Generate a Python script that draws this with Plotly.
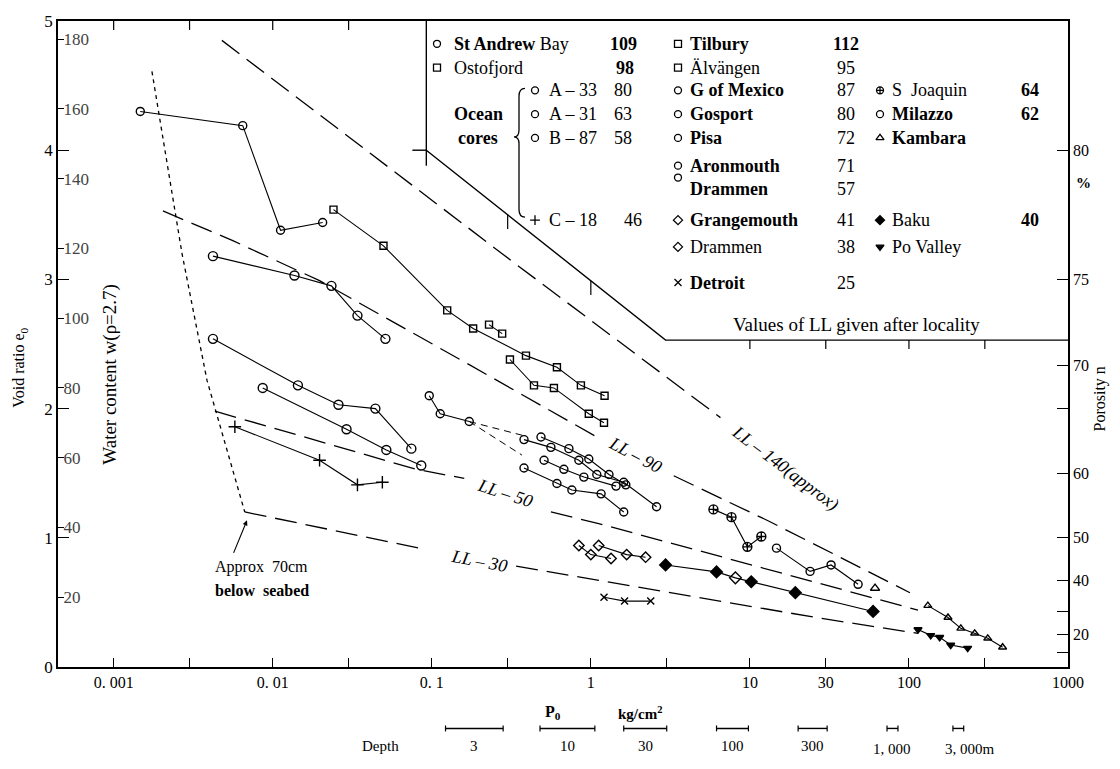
import numpy as np
import plotly.graph_objects as go

# ---------------- data: P0 (kg/cm2) and void ratio e0 ----------------
st_andrew_p = [0.00147, 0.00648, 0.0112, 0.0206]
st_andrew_e = [4.30, 4.19, 3.38, 3.44]
ostofjord_p = [0.0241, 0.0497, 0.125, 0.182, 0.391, 0.612, 0.866, 1.22]
ostofjord_e = [3.54, 3.26, 2.76, 2.62, 2.41, 2.32, 2.18, 2.10]
tilbury_p = [0.229, 0.277]
tilbury_e = [2.65, 2.58]
alvangen_p = [0.310, 0.439, 0.586, 0.971, 1.21]
alvangen_e = [2.38, 2.18, 2.16, 1.96, 1.89]
a33_p = [0.00421, 0.0137, 0.0234, 0.0341, 0.0511]
a33_e = [3.18, 3.03, 2.95, 2.72, 2.54]
a31_p = [0.00421, 0.0144, 0.0259, 0.0442, 0.0744]
a31_e = [2.54, 2.18, 2.03, 2.00, 1.69]
b87_p = [0.00865, 0.0291, 0.0518, 0.0859]
b87_e = [2.16, 1.84, 1.68, 1.56]
c18_p = [0.00578, 0.0197, 0.0341, 0.0489]
c18_e = [1.86, 1.60, 1.41, 1.43]
drammen57_p = [0.0964, 0.113, 0.172]
drammen57_e = [2.10, 1.96, 1.90]
drammen57_ext1_p = [0.172, 0.380]
drammen57_ext1_e = [1.90, 1.79]
drammen57_ext2_p = [0.172, 0.369]
drammen57_ext2_e = [1.90, 1.64]
gmexico_p = [0.380, 0.561, 0.841, 1.09, 1.61, 2.59]
gmexico_e = [1.76, 1.70, 1.60, 1.49, 1.43, 1.24]
gosport_p = [0.486, 0.728, 0.971, 1.30, 1.66]
gosport_e = [1.78, 1.69, 1.61, 1.49, 1.41]
pisa_p = [0.508, 0.677, 0.904, 1.44]
pisa_e = [1.60, 1.53, 1.47, 1.40]
aronmouth_p = [0.380, 0.612, 0.760, 1.16, 1.61]
aronmouth_e = [1.54, 1.42, 1.37, 1.34, 1.20]
grangemouth_p = [1.12, 1.68, 2.21]
grangemouth_e = [0.94, 0.87, 0.85]
drammen38_p = [0.841, 1.00, 1.34]
drammen38_e = [0.94, 0.87, 0.84]
detroit_p = [1.21, 1.63, 2.38]
detroit_e = [0.54, 0.51, 0.51]
sjoaquin_p = [5.90, 7.66, 9.64, 11.8]
sjoaquin_e = [1.22, 1.16, 0.93, 1.01]
milazzo_p = [14.7, 23.9, 32.4, 47.9]
milazzo_e = [0.92, 0.74, 0.79, 0.64]
kambara_single_p = [61.2]
kambara_single_e = [0.61]
kambara_p = [131.5, 176, 212, 259, 313, 388]
kambara_e = [0.475, 0.383, 0.299, 0.261, 0.222, 0.153]
baku_p = [2.95, 6.17, 8.11, 10.2, 19.3, 59.5]
baku_e = [0.79, 0.736, 0.69, 0.66, 0.575, 0.43]
po_valley_p = [114, 137, 156, 183, 234]
po_valley_e = [0.29, 0.245, 0.23, 0.17, 0.146]

# liquid-limit reference lines (broken where the labels sit)
ll140_p = [0.00479, 0.320, 6.53]
ll140_e = [4.85, 3.14, 1.93]
ll90a_p = [0.00204, 0.00561, 0.0197, 0.0835, 0.172, 1.09]
ll90a_e = [3.53, 3.30, 2.99, 2.56, 2.34, 1.78]
ll90b_p = [3.32, 13.1, 101.5]
ll90b_e = [1.48, 1.13, 0.575]
ll50a_p = [0.00433, 0.080, 0.160]
ll50a_e = [1.98, 1.53, 1.46]
ll50b_p = [0.561, 1.12, 26.9, 114]
ll50b_e = [1.20, 1.11, 0.65, 0.44]
ll30a_p = [0.00667, 0.0835]
ll30a_e = [1.20, 0.92]
ll30b_p = [0.339, 1.12, 26.9, 114]
ll30b_e = [0.78, 0.67, 0.38, 0.26]
boundary_p = [0.00174, 0.00269, 0.00386, 0.00667]
boundary_e = [4.61, 3.20, 2.22, 1.20]

# legend-box outline in data units
box_diag_p = [0.0924, 2.95, 1000]
box_diag_e = [4.0, 2.53, 2.53]
box_left_p = [0.0924, 0.0924]
box_left_e = [5.0, 3.88]
box_corner_p = [0.0755, 0.0924]
box_corner_e = [4.0, 4.0]

# LL label anchor points
ll_label_text = ["LL – 140(approx)", "LL – 90", "LL – 50", "LL – 30"]
ll_label_p = [16.7, 1.915, 0.289, 0.199]
ll_label_e = [1.534, 1.641, 1.350, 0.820]

# axes ticks
x_ticks = [0.001, 0.003, 0.01, 0.03, 0.1, 0.3, 1, 3, 10, 30, 100, 300, 1000]
x_tick_text = ["0. 001", "", "0. 01", "", "0. 1", "", "1", "", "10", "30", "100", "", "1000"]
void_ticks = [0, 1, 2, 3, 4, 5]
water_ticks = [20, 40, 60, 80, 100, 120, 140, 160, 180]
porosity_ticks = [80, 75, 70, 66.67, 60, 50, 40, 30, 20, 10]
porosity_text = ["80", "75", "70", "", "60", "50", "40", "", "20", ""]

# depth scale under the axis (pressure range for each depth)
depth_labels = ["3", "10", "30", "100", "300", "1, 000", "3, 000"]
depth_lo = [0.122, 0.479, 1.61, 6.17, 20.1, 72.8, 189]
depth_hi = [0.281, 1.06, 3.0, 9.79, 30.6, 85.3, 221]

# ---------------- layout helpers ----------------
FONT = "Liberation Serif"
XMIN, XMAX = -3.35, 3.0
L, R, T, B = 58, 1068, 15, 667


def px(x):
    return (x - L) / (R - L)


def py(y):
    return (B - y) / (B - T)


def xp(p):
    return (np.log10(p) - XMIN) / (XMAX - XMIN)


fig = go.Figure()


def series(p, e, symbol=None, size=7, dash="solid", width=1.1, lw=1.4):
    mode = "lines+markers" if symbol is not None else "lines"
    fig.add_trace(go.Scatter(
        x=p, y=e, mode=mode,
        line=dict(color="black", width=width, dash=dash),
        marker=dict(symbol=symbol if symbol is not None else "circle", size=size,
                    color="black", line=dict(color="black", width=lw)),
        showlegend=False, hoverinfo="skip", cliponaxis=False))


LONG = "22px,9px"
series(ll140_p, ll140_e, dash=LONG, width=1.3)
series(ll90a_p, ll90a_e, dash=LONG, width=1.3)
series(ll90b_p, ll90b_e, dash=LONG, width=1.3)
series(ll50a_p, ll50a_e, dash=LONG, width=1.3)
series(ll50b_p, ll50b_e, dash=LONG, width=1.3)
series(ll30a_p, ll30a_e, dash=LONG, width=1.3)
series(ll30b_p, ll30b_e, dash=LONG, width=1.3)
series(boundary_p, boundary_e, dash="4px,4px", width=1.3)
series(box_diag_p, box_diag_e, width=1.4)
series(box_left_p, box_left_e, width=1.4)
series(box_corner_p, box_corner_e, width=1.4)

series(st_andrew_p, st_andrew_e, "circle-open", 8)
series(ostofjord_p, ostofjord_e, "square-open", 7)
series(tilbury_p, tilbury_e, "square-open", 7)
series(alvangen_p, alvangen_e, "square-open", 7)
series(a33_p, a33_e, "circle-open", 9)
series(a31_p, a31_e, "circle-open", 9)
series(b87_p, b87_e, "circle-open", 9)
series(c18_p, c18_e, "cross-thin-open", 9)
series(drammen57_p, drammen57_e, "circle-open", 8)
series(drammen57_ext1_p, drammen57_ext1_e, dash="7px,5px", width=1.0)
series(drammen57_ext2_p, drammen57_ext2_e, dash="7px,5px", width=1.0)
series(gmexico_p, gmexico_e, "circle-open", 8)
series(gosport_p, gosport_e, "circle-open", 8)
series(pisa_p, pisa_e, "circle-open", 8)
series(aronmouth_p, aronmouth_e, "circle-open", 8)
series(grangemouth_p, grangemouth_e, "diamond-open", 8)
series(drammen38_p, drammen38_e, "diamond-open", 8)
series(detroit_p, detroit_e, "x-thin-open", 7)
series(sjoaquin_p, sjoaquin_e, "circle-cross-open", 9)
series(milazzo_p, milazzo_e, "circle-open", 8)
series(kambara_single_p, kambara_single_e, "triangle-up-open", 8)
series(kambara_p, kambara_e, "triangle-up-open", 7)
series(po_valley_p, po_valley_e, "triangle-down", 7)
fig.add_trace(go.Scatter(
    x=baku_p, y=baku_e, mode="lines+markers",
    line=dict(color="black", width=1.1),
    marker=dict(symbol=["diamond", "diamond", "diamond-open", "diamond", "diamond", "diamond"],
                size=9, color="black", line=dict(color="black", width=1.4)),
    showlegend=False, hoverinfo="skip"))

# ---------------- legend (inside the box) ----------------
rows = [38, 62, 85, 109, 133, 161, 185, 216, 243, 279]
legend_marks = [
    (437, rows[0], "circle-open"), (437, rows[1], "square-open"),
    (535, rows[2], "circle-open"), (535, rows[3], "circle-open"),
    (535, rows[4], "circle-open"), (535, rows[7], "cross-thin-open"),
    (678, rows[0], "square-open"), (678, rows[1], "square-open"),
    (678, rows[2], "circle-open"), (678, rows[3], "circle-open"),
    (678, rows[4], "circle-open"), (678, rows[5], "circle-open"),
    (678, 173, "circle-open"), (678, rows[7], "diamond-open"),
    (678, rows[8], "diamond-open"), (678, rows[9], "x-thin-open"),
    (880, rows[2], "circle-cross-open"), (880, rows[3], "circle-open"),
    (880, rows[4], "triangle-up-open"), (880, rows[7], "diamond"),
    (880, rows[8], "triangle-down"),
]
fig.add_trace(go.Scatter(
    x=[px(m[0]) for m in legend_marks], y=[py(m[1]) for m in legend_marks],
    xaxis="x2", yaxis="y4", mode="markers",
    marker=dict(symbol=[m[2] for m in legend_marks], size=7, color="black",
                line=dict(color="black", width=1.3)),
    showlegend=False, hoverinfo="skip", cliponaxis=False))

legend_texts = [
    (452, rows[0], "<b>St Andrew</b> Bay", "left"), (623, rows[0], "<b>109</b>", "center"),
    (452, rows[1], "Ostofjord", "left"), (625, rows[1], "<b>98</b>", "center"),
    (547, rows[2], "A – 33", "left"), (623, rows[2], "80", "center"),
    (478, rows[3], "<b>Ocean</b>", "center"), (547, rows[3], "A – 31", "left"), (623, rows[3], "63", "center"),
    (478, rows[4], "<b>cores</b>", "center"), (547, rows[4], "B – 87", "left"), (623, rows[4], "58", "center"),
    (547, rows[7], "C – 18", "left"), (633, rows[7], "46", "center"),
    (688, rows[0], "<b>Tilbury</b>", "left"), (846, rows[0], "<b>112</b>", "center"),
    (688, rows[1], "Älvängen", "left"), (846, rows[1], "95", "center"),
    (688, rows[2], "<b>G of Mexico</b>", "left"), (846, rows[2], "87", "center"),
    (688, rows[3], "<b>Gosport</b>", "left"), (846, rows[3], "80", "center"),
    (688, rows[4], "<b>Pisa</b>", "left"), (846, rows[4], "72", "center"),
    (688, rows[5], "<b>Aronmouth</b>", "left"), (846, rows[5], "71", "center"),
    (688, rows[6], "<b>Drammen</b>", "left"), (846, rows[6], "57", "center"),
    (688, rows[7], "<b>Grangemouth</b>", "left"), (846, rows[7], "41", "center"),
    (688, rows[8], "Drammen", "left"), (846, rows[8], "38", "center"),
    (688, rows[9], "<b>Detroit</b>", "left"), (846, rows[9], "25", "center"),
    (890, rows[2], "S  Joaquin", "left"), (1030, rows[2], "<b>64</b>", "center"),
    (890, rows[3], "<b>Milazzo</b>", "left"), (1030, rows[3], "<b>62</b>", "center"),
    (890, rows[4], "<b>Kambara</b>", "left"),
    (890, rows[7], "Baku", "left"), (1030, rows[7], "<b>40</b>", "center"),
    (890, rows[8], "Po Valley", "left"),
]
annotations = []
for x, y, t, a in legend_texts:
    annotations.append(dict(x=px(x), y=py(y), xref="paper", yref="paper", text=t,
                            showarrow=False, xanchor=a, yanchor="middle",
                            font=dict(family=FONT, size=18, color="black")))

# LL labels on the lines
for t, p, e, ang in zip(ll_label_text, ll_label_p, ll_label_e, [37, 28, 18, 11]):
    annotations.append(dict(x=np.log10(p), y=e, xref="x", yref="y", text="<i>" + t + "</i>",
                            showarrow=False, textangle=ang, xanchor="center", yanchor="middle",
                            font=dict(family=FONT, size=18, color="black")))


def note(x, y, text, size=16, angle=0, anchor="center"):
    return dict(x=px(x), y=py(y), xref="paper", yref="paper", text=text, showarrow=False,
                textangle=angle, xanchor=anchor, yanchor="middle",
                font=dict(family=FONT, size=size, color="black"))


annotations += [
    note(856, 321, "Values of LL given after locality", 19),
    note(213, 566, "Approx  70cm", 16, anchor="left"),
    note(213, 590, "<b>below  seabed</b>", 16, anchor="left"),
    dict(x=px(247), y=py(519), xref="paper", yref="paper", text="", showarrow=True,
         ax=-14, ay=34, arrowhead=2, arrowsize=0.9, arrowwidth=1.1, arrowcolor="black"),
    note(20, 365, "Void ratio e<sub>0</sub>", 16, angle=-90),
    note(110, 372, "Water content w(ρ=2.7)", 19, angle=-90),
    note(1100, 397, "Porosity n", 16, angle=-90),
    note(1074, 178, "<b>%</b>", 15, anchor="left"),
    note(553, 713, "<b>P<sub>0</sub></b>", 16),
    note(640, 713, "<b>kg/cm<sup>2</sup></b>", 15),
    note(380, 747, "Depth", 15),
]
shapes = []
# depth bars
for lab, lo, hi in zip(depth_labels, depth_lo, depth_hi):
    x0, x1 = xp(lo), xp(hi)
    shapes.append(dict(type="line", xref="paper", yref="paper", x0=x0, x1=x1, y0=py(729), y1=py(729),
                       line=dict(color="black", width=1.4)))
    for xx in (x0, x1):
        shapes.append(dict(type="line", xref="paper", yref="paper", x0=xx, x1=xx, y0=py(726), y1=py(732),
                           line=dict(color="black", width=1.2)))
    big = "," in lab
    txt = lab + ("m" if lab == "3, 000" else "")
    annotations.append(dict(x=(x0 + x1) / 2 + (0.012 if lab == "3, 000" else 0), y=py(750 if big else 747),
                            xref="paper", yref="paper", text=txt, showarrow=False,
                            xanchor="center", yanchor="middle",
                            font=dict(family=FONT, size=15, color="black")))

# top ticks along the frame / box outline
TK = 9 / (B - T)
for p in [0.001, 0.003, 0.01, 0.03]:
    shapes.append(dict(type="line", xref="paper", yref="paper", x0=xp(p), x1=xp(p), y0=1, y1=1 - TK,
                       line=dict(color="black", width=1.2)))
for p in [10, 30, 100, 300]:
    yb = box_diag_e[1] / 5
    shapes.append(dict(type="line", xref="paper", yref="paper", x0=xp(p), x1=xp(p), y0=yb, y1=yb - TK,
                       line=dict(color="black", width=1.2)))
for p in [0.3, 1]:
    yd = np.interp(np.log10(p), np.log10(box_diag_p[:2]), box_diag_e[:2]) / 5
    shapes.append(dict(type="line", xref="paper", yref="paper", x0=xp(p), x1=xp(p), y0=yd, y1=yd - 1.6 * TK,
                       line=dict(color="black", width=1.2)))

# brace for the ocean cores
brace_pts = "M {a},{b} Q {c},{b} {c},{d} L {c},{e} Q {c},{f} {g},{f} Q {c},{f} {c},{h} L {c},{i} Q {c},{j} {a},{j}"
brace = brace_pts.format(a=px(525), b=py(83), c=px(519), d=py(91), e=py(125), f=py(132), g=px(514),
                         h=py(139), i=py(205), j=py(213))
shapes.append(dict(type="path", xref="paper", yref="paper", path=brace, line=dict(color="black", width=1.3)))

fig.update_layout(
    width=1120, height=769, margin=dict(l=L, r=1120 - R, t=T, b=769 - B),
    paper_bgcolor="white", plot_bgcolor="white", showlegend=False,
    font=dict(family=FONT, color="black", size=16),
    xaxis=dict(type="log", range=[XMIN, XMAX], tickvals=x_ticks, ticktext=x_tick_text,
               ticks="inside", ticklen=9, tickwidth=1.2, tickcolor="black",
               showline=True, linecolor="black", linewidth=1.6, mirror=True,
               showgrid=False, zeroline=False, tickfont=dict(family=FONT, size=16)),
    yaxis=dict(range=[0, 5], tickvals=void_ticks, ticks="inside", ticklen=11, tickwidth=1.2,
               tickcolor="black", showline=True, linecolor="black", linewidth=1.6,
               showgrid=False, zeroline=False, tickfont=dict(family=FONT, size=17)),
    yaxis2=dict(overlaying="y", side="left", anchor="x", range=[0, 500 / 2.7], tickvals=water_ticks,
                ticks="inside", ticklen=6, tickwidth=1.2, tickcolor="black", ticklabelposition="inside",
                showline=False, showgrid=False, zeroline=False, tickfont=dict(family=FONT, size=17)),
    yaxis3=dict(overlaying="y", side="right", anchor="x", range=[0, 5],
                tickvals=[n / (100 - n) for n in porosity_ticks], ticktext=porosity_text,
                ticks="inside", ticklen=11, tickwidth=1.2, tickcolor="black",
                showline=True, linecolor="black", linewidth=1.6,
                showgrid=False, zeroline=False, tickfont=dict(family=FONT, size=16)),
    xaxis2=dict(overlaying="x", range=[0, 1], visible=False),
    yaxis4=dict(overlaying="y", range=[0, 1], visible=False),
    annotations=annotations, shapes=shapes,
)
fig.add_trace(go.Scatter(x=[None], y=[None], yaxis="y2", showlegend=False))
fig.add_trace(go.Scatter(x=[None], y=[None], yaxis="y3", showlegend=False))

fig.write_html("out.html")
